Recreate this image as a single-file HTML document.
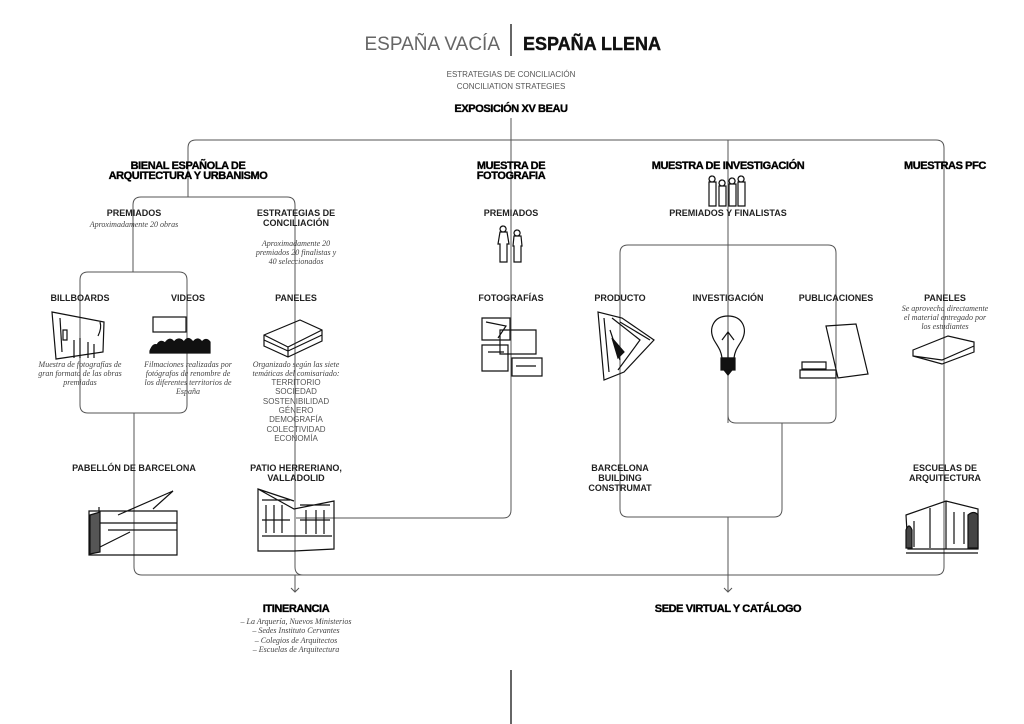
<!DOCTYPE html>
<html><head><meta charset="utf-8"><style>
html,body{margin:0;padding:0;background:#fff;}
svg{display:block;}
.h{font-family:"Liberation Sans",sans-serif;font-weight:bold;font-size:11px;fill:#000;stroke:#000;stroke-width:0.35px;text-anchor:middle;letter-spacing:-0.4px;}
.l{font-family:"Liberation Sans",sans-serif;font-weight:bold;font-size:9px;fill:#222;text-anchor:middle;}
.s{font-family:"Liberation Serif",serif;font-style:italic;font-size:8px;fill:#444;text-anchor:middle;}
.t{font-family:"Liberation Sans",sans-serif;font-size:8px;fill:#555;text-anchor:middle;}
.c{fill:none;stroke:#555;stroke-width:1;}
.d{fill:none;stroke:#111;stroke-width:1.2;}
</style></head><body>
<svg width="1024" height="724" viewBox="0 0 1024 724" xmlns="http://www.w3.org/2000/svg">
<!-- header -->
<text x="500" y="50" font-family="Liberation Sans,sans-serif" font-size="19" fill="#666" text-anchor="end">ESPAÑA VACÍA</text>
<line x1="511" y1="24" x2="511" y2="56" stroke="#333" stroke-width="1.5"/>
<text x="523" y="50" font-family="Liberation Sans,sans-serif" font-size="18" font-weight="bold" fill="#111" stroke="#111" stroke-width="0.4">ESPAÑA LLENA</text>
<text x="511" y="77" class="t" font-size="10">ESTRATEGIAS DE CONCILIACIÓN</text>
<text x="511" y="89" class="t" font-size="10">CONCILIATION STRATEGIES</text>
<text x="511" y="112" class="h" font-size="10.5">EXPOSICIÓN XV BEAU</text>

<!-- connectors -->
<path class="c" d="M511,118 V140"/>
<path class="c" d="M188,197 V148 Q188,140 196,140 H936 Q944,140 944,148 V567 Q944,575 936,575 H142 Q134,575 134,567 V413"/>
<path class="c" d="M80,280 V405 Q80,413 88,413 H179 Q187,413 187,405 V280 Q187,272 179,272 H88 Q80,272 80,280 Z"/>
<path class="c" d="M133,272 V205 Q133,197 141,197 H287 Q295,197 295,205 V567 Q295,575 303,575"/>
<path class="c" d="M511,140 V510 Q511,518 503,518 H296"/>
<path class="c" d="M728,140 V423"/>
<path class="c" d="M620,509 V253 Q620,245 628,245 H828 Q836,245 836,253 V415 Q836,423 828,423 H736 Q728,423 728,415"/>
<path class="c" d="M782,423 V509 Q782,517 774,517 H628 Q620,517 620,509"/>
<path class="c" d="M728,517 V592 M724,588 L728,592 L732,588"/>
<path class="c" d="M295,575 V592 M291,588 L295,592 L299,588"/>
<line x1="511" y1="670" x2="511" y2="724" stroke="#333" stroke-width="1.5"/>

<!-- level 1 titles -->
<text x="188" y="169" class="h">BIENAL ESPAÑOLA DE</text>
<text x="188" y="179" class="h">ARQUITECTURA Y URBANISMO</text>
<text x="511" y="169" class="h">MUESTRA DE</text>
<text x="511" y="179" class="h">FOTOGRAFIA</text>
<text x="728" y="169" class="h">MUESTRA DE INVESTIGACIÓN</text>
<text x="945" y="169" class="h">MUESTRAS PFC</text>

<!-- level 2 -->
<text x="134" y="216" class="l">PREMIADOS</text>
<text x="134" y="227" class="s">Aproximadamente 20 obras</text>
<text x="296" y="216" class="l">ESTRATEGIAS DE</text>
<text x="296" y="226" class="l">CONCILIACIÓN</text>
<text x="296" y="246" class="s">Aproximadamente 20</text>
<text x="296" y="255" class="s">premiados 20 finalistas y</text>
<text x="296" y="264" class="s">40 seleccionados</text>
<text x="511" y="216" class="l">PREMIADOS</text>
<text x="728" y="216" class="l">PREMIADOS Y FINALISTAS</text>
<!-- people -->
<g class="d" stroke-width="1">
<path d="M503,226 a3,3 0 1,0 0.1,0 M500,232 h7 l2,12 h-2 v18 h-7 v-18 h-2 z"/>
<path d="M517,230 a3,3 0 1,0 0.1,0 M514,236 h7 l1,10 h-1 v16 h-7 v-16 h-1 z"/>
<path d="M712,176 a3,3 0 1,0 0.1,0 M709,182 h7 v24 h-7 z"/>
<path d="M722,180 a3,3 0 1,0 0.1,0 M719,186 h7 v20 h-7 z"/>
<path d="M732,178 a3,3 0 1,0 0.1,0 M729,184 h7 v22 h-7 z"/>
<path d="M741,176 a3,3 0 1,0 0.1,0 M738,182 h7 v24 h-7 z"/>
</g>

<!-- level 3 labels -->
<text x="80" y="301" class="l">BILLBOARDS</text>
<text x="188" y="301" class="l">VIDEOS</text>
<text x="296" y="301" class="l">PANELES</text>
<text x="511" y="301" class="l">FOTOGRAFÍAS</text>
<text x="620" y="301" class="l">PRODUCTO</text>
<text x="728" y="301" class="l">INVESTIGACIÓN</text>
<text x="836" y="301" class="l">PUBLICACIONES</text>
<text x="945" y="301" class="l">PANELES</text>
<text x="945" y="311" class="s">Se aprovecha directamente</text>
<text x="945" y="320" class="s">el material entregado por</text>
<text x="945" y="329" class="s">los estudiantes</text>

<!-- images level 3 -->
<g class="d">
<path d="M52,312 L104,322 L103,352 L56,359 Z M52,312 L56,359 M60,318 L62,352 M63,330 h4 v10 h-4z"/>
<path d="M74,340 v18 M80,338 v20 M88,342 v16 M94,344 v14 M98,336 q4,-8 2,-14"/>
<rect x="153" y="317" width="33" height="15"/>
<path d="M150,351 q3,-8 7,-6 q3,-6 8,-2 q5,-7 9,-1 q5,-6 10,0 q4,-7 9,0 q5,-6 9,0 q4,-5 8,0 v11 h-60 z" fill="#111"/>
<path d="M264,335 L300,320 L322,330 L322,341 L288,357 L264,346 Z M264,335 L288,347 L322,330 M264,340 L288,351 L322,335 M288,347 V357" />
<path d="M482,318 h28 v22 h-28 z M486,322 l20,4 l-8,12 M500,330 h36 v24 h-36z M482,345 h26 v26 h-26z M488,352 h16 M512,358 h30 v18 h-30z M516,366 h20"/>
<path d="M598,312 L604,380 L624,372 L654,340 L622,318 Z M604,318 L609,372 M612,318 L640,340 L618,370 M620,322 L650,340 M610,330 l10,30" />
<path d="M612,338 l6,20 l6,-6 z" fill="#111"/>
<path d="M728,316 c-14,0 -20,12 -14,24 c4,7 7,10 8,18 h12 c1,-8 4,-11 8,-18 c6,-12 0,-24 -14,-24 z M722,340 l6,-8 l6,8 M728,332 v26"/>
<rect x="721" y="358" width="14" height="12" fill="#111"/>
<path d="M724,370 h8 l-4,5 z" fill="#111"/>
<path d="M826,326 L856,324 L868,374 L838,378 Z M826,326 L838,378 M802,362 h24 v7 h-24z M800,370 h36 v8 h-36z"/>
<path d="M913,350 L948,336 L974,342 L974,352 L942,364 L913,356 Z M913,356 L942,360 L974,346"/>
</g>

<!-- captions -->
<text x="80" y="367" class="s">Muestra de fotografías de</text>
<text x="80" y="376" class="s">gran formato de las obras</text>
<text x="80" y="385" class="s">premiadas</text>
<text x="188" y="367" class="s">Filmaciones realizadas por</text>
<text x="188" y="376" class="s">fotógrafos de renombre de</text>
<text x="188" y="385" class="s">los diferentes territorios de</text>
<text x="188" y="394" class="s">España</text>
<text x="296" y="367" class="s">Organizado según las siete</text>
<text x="296" y="376" class="s">temáticas del comisariado:</text>
<g class="t" font-size="7.5">
<text x="296" y="385">TERRITORIO</text>
<text x="296" y="394">SOCIEDAD</text>
<text x="296" y="404">SOSTENIBILIDAD</text>
<text x="296" y="413">GÉNERO</text>
<text x="296" y="422">DEMOGRAFÍA</text>
<text x="296" y="432">COLECTIVIDAD</text>
<text x="296" y="441">ECONOMÍA</text>
</g>

<!-- level 4 -->
<text x="134" y="471" class="l">PABELLÓN DE BARCELONA</text>
<text x="296" y="471" class="l">PATIO HERRERIANO,</text>
<text x="296" y="481" class="l">VALLADOLID</text>
<text x="620" y="471" class="l">BARCELONA</text>
<text x="620" y="481" class="l">BUILDING</text>
<text x="620" y="491" class="l">CONSTRUMAT</text>
<text x="945" y="471" class="l">ESCUELAS DE</text>
<text x="945" y="481" class="l">ARQUITECTURA</text>

<g class="d">
<path d="M89,511 h88 v44 h-88 z M99,507 v44 M118,515 l55,-24 l-20,18 M100,523 h77 M108,530 h69 M100,547 l30,-15"/>
<path d="M90,515 l10,-3 v40 l-10,2 z" fill="#555"/>
<path d="M258,489 v62 h36 l40,-2 v-48 l-40,8 z M258,489 l36,12 M262,500 h28 M300,505 h30 M262,520 h28 M300,520 h30 M262,536 h70 M266,505 v28 M274,505 v28 M282,505 v28 M306,510 v24 M316,510 v24 M324,510 v24"/>
<path d="M906,515 l40,-14 l32,8 v40 h-70 z M914,521 v26 M930,508 v40 M946,501 v48 M954,512 v32 M964,512 v32 M906,553 h72"/>
<path d="M906,530 q3,-8 6,0 v18 h-6z M968,515 q6,-5 10,0 v33 h-10z" fill="#444"/>
</g>

<!-- bottom -->
<text x="296" y="612" class="h">ITINERANCIA</text>
<text x="296" y="624" class="s">– La Arquería, Nuevos Ministerios</text>
<text x="296" y="633" class="s">– Sedes Instituto Cervantes</text>
<text x="296" y="643" class="s">– Colegios de Arquitectos</text>
<text x="296" y="652" class="s">– Escuelas de Arquitectura</text>
<text x="728" y="612" class="h">SEDE VIRTUAL Y CATÁLOGO</text>
</svg>
</body></html>
